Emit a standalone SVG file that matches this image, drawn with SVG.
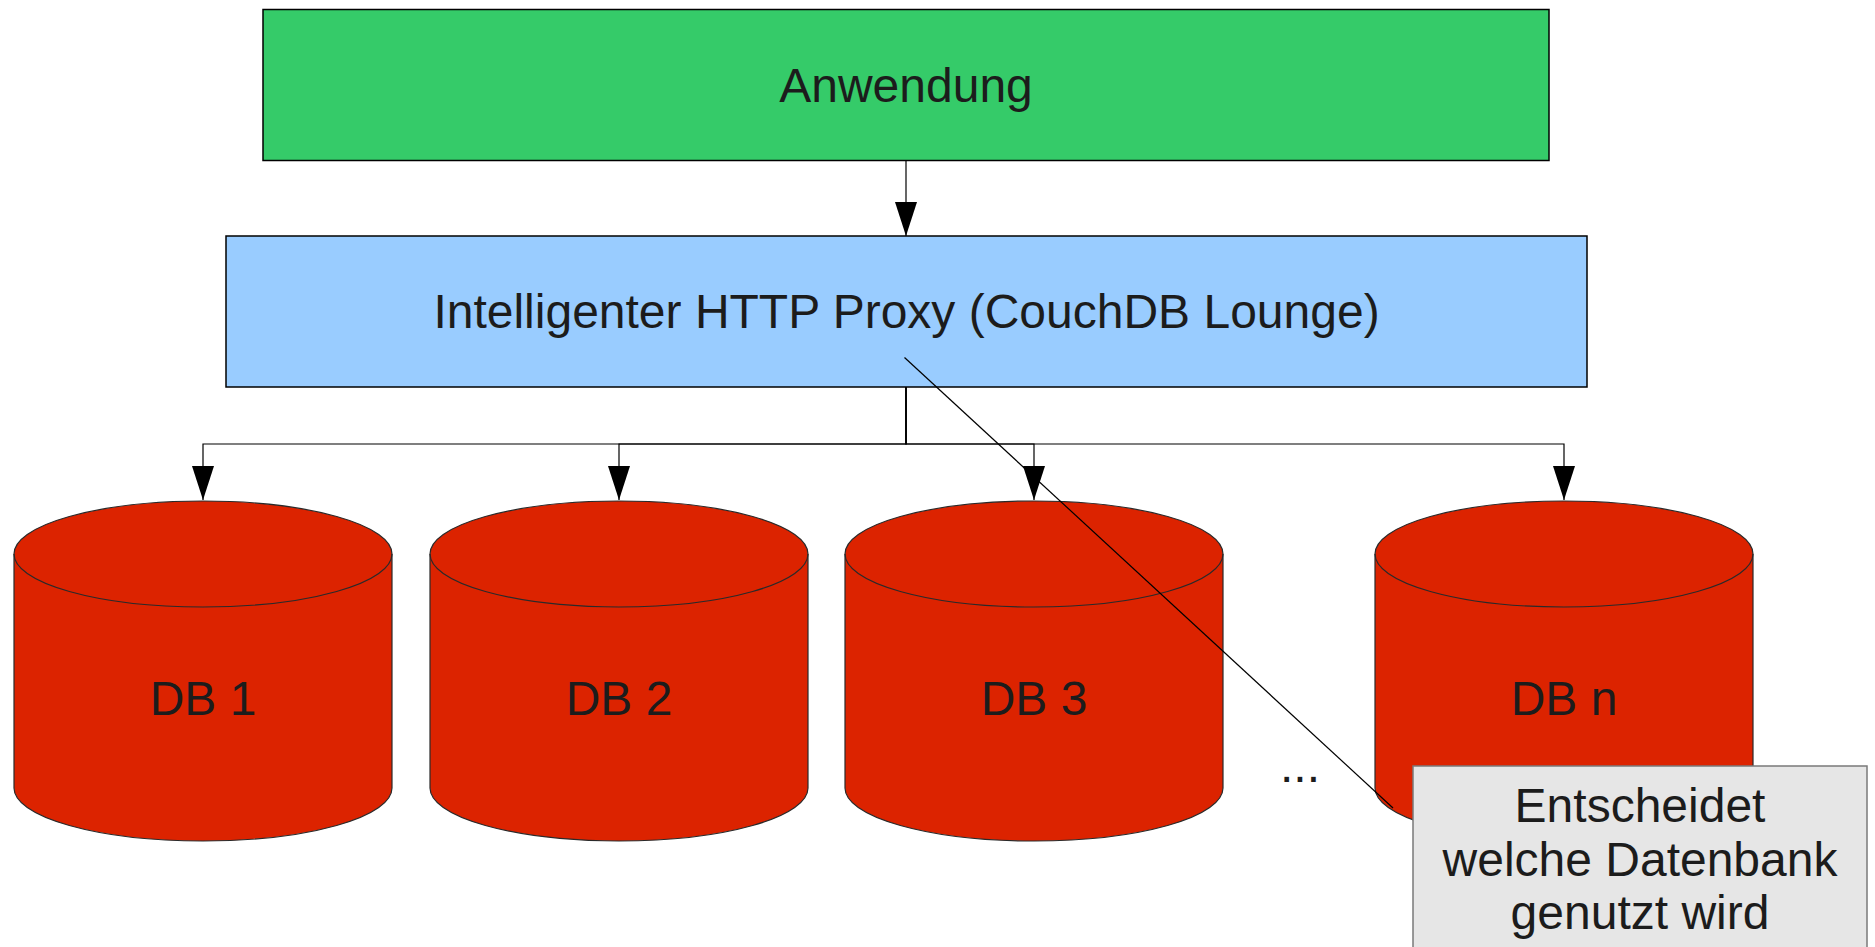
<svg xmlns="http://www.w3.org/2000/svg" width="1875" height="947" viewBox="0 0 1875 947">
<style>
  .lbl { font-family: "Liberation Sans", Arial, sans-serif; font-size: 48px; fill: #1c1c1c; text-anchor: middle; }
  .db { fill: #dc2300; stroke: #2a2a2a; stroke-width: 1.2; }
  .rim { fill: none; stroke: #2a2a2a; stroke-width: 1.2; }
  .conn { fill: none; stroke: #000; stroke-width: 1.2; }
</style>
<defs>
  <marker id="arr" viewBox="0 0 34 22" refX="34" refY="11" markerWidth="34" markerHeight="22" markerUnits="userSpaceOnUse" orient="auto">
    <path d="M0,0 L34,11 L0,22 Z" fill="#000"/>
  </marker>
</defs>
<rect width="1875" height="947" fill="#fff"/>

<g id="anwendung">
  <rect x="263" y="9.5" width="1286" height="151" fill="#35cb69" stroke="#000" stroke-width="1.5"/>
  <text class="lbl" x="906" y="102">Anwendung</text>
</g>

<g id="proxy">
  <rect x="226" y="236" width="1361" height="151" fill="#99ccff" stroke="#000" stroke-width="1.5"/>
  <text class="lbl" x="906.5" y="328">Intelligenter HTTP Proxy (CouchDB Lounge)</text>
</g>

<g id="db1">
  <path class="db" d="M14,554 A189,53 0 0,1 392,554 L392,788 A189,53 0 0,1 14,788 Z"/>
  <path class="rim" d="M14,554 A189,53 0 0,0 392,554"/>
  <text class="lbl" x="203" y="715">DB 1</text>
</g>
<g id="db2">
  <path class="db" d="M430,554 A189,53 0 0,1 808,554 L808,788 A189,53 0 0,1 430,788 Z"/>
  <path class="rim" d="M430,554 A189,53 0 0,0 808,554"/>
  <text class="lbl" x="619" y="715">DB 2</text>
</g>
<g id="db3">
  <path class="db" d="M845,554 A189,53 0 0,1 1223,554 L1223,788 A189,53 0 0,1 845,788 Z"/>
  <path class="rim" d="M845,554 A189,53 0 0,0 1223,554"/>
  <text class="lbl" x="1034" y="715">DB 3</text>
</g>
<g id="dbn">
  <path class="db" d="M1375,554 A189,53 0 0,1 1753,554 L1753,788 A189,53 0 0,1 1375,788 Z"/>
  <path class="rim" d="M1375,554 A189,53 0 0,0 1753,554"/>
  <text class="lbl" x="1564" y="715">DB n</text>
</g>

<g id="ellipsis">
  <text class="lbl" x="1300" y="782">...</text>
</g>

<g id="connectors">
  <path class="conn" d="M906,161 L906,236" marker-end="url(#arr)"/>
  <path class="conn" d="M906,387 L906,444 L203,444 L203,500" marker-end="url(#arr)"/>
  <path class="conn" d="M906,387 L906,444 L619,444 L619,500" marker-end="url(#arr)"/>
  <path class="conn" d="M906,387 L906,444 L1034,444 L1034,500" marker-end="url(#arr)"/>
  <path class="conn" d="M906,387 L906,444 L1564,444 L1564,500" marker-end="url(#arr)"/>
</g>

<g id="callout">
  <line x1="904.5" y1="357.5" x2="1393" y2="808" stroke="#000" stroke-width="1.2"/>
  <rect x="1413" y="766" width="454" height="200" fill="#e6e6e6" stroke="#7a7a7a" stroke-width="1.5"/>
  <text class="lbl" x="1640" y="822">Entscheidet</text>
  <text class="lbl" x="1640" y="876">welche Datenbank</text>
  <text class="lbl" x="1640" y="929">genutzt wird</text>
</g>
</svg>
